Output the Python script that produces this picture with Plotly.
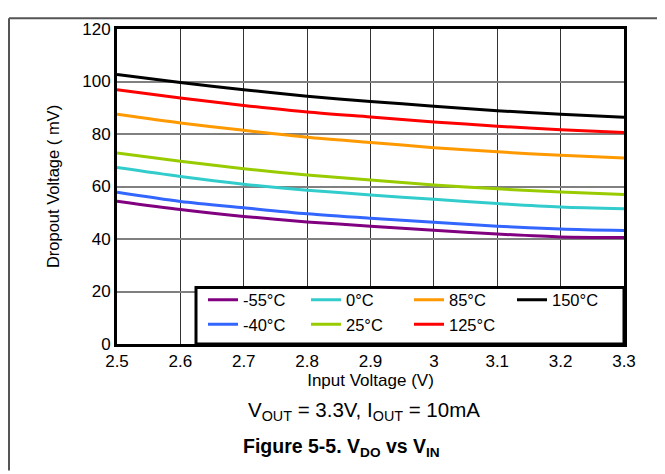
import plotly.graph_objects as go

vin = [2.5, 2.6, 2.7, 2.8, 2.9, 3.0, 3.1, 3.2, 3.3]

t_m55 = [54.4, 51.2, 48.6, 46.5, 44.9, 43.3, 41.9, 40.8, 40.6]
t_m40 = [57.8, 54.3, 51.9, 49.6, 47.9, 46.4, 44.9, 43.8, 43.2]
t_0 = [67.2, 63.8, 60.9, 58.6, 56.8, 55.1, 53.5, 52.2, 51.5]
t_25 = [72.8, 69.6, 66.8, 64.4, 62.5, 60.6, 59.1, 57.9, 57.0]
t_85 = [87.5, 84.2, 81.4, 78.8, 76.8, 74.8, 73.2, 71.9, 70.9]
t_125 = [96.9, 93.7, 90.9, 88.4, 86.5, 84.6, 83.0, 81.6, 80.6]
t_150 = [102.7, 99.6, 96.9, 94.4, 92.4, 90.6, 88.9, 87.5, 86.4]

x_ticks = [2.5, 2.6, 2.7, 2.8, 2.9, 3.0, 3.1, 3.2, 3.3]
x_ticklabels = ["2.5", "2.6", "2.7", "2.8", "2.9", "3", "3.1", "3.2", "3.3"]
y_ticks = [0, 20, 40, 60, 80, 100, 120]

# legend order arranged so rows read like the reference (column-major look)
series = [
    ("-55°C", t_m55, "#800080"),
    ("0°C", t_0, "#33CCCC"),
    ("85°C", t_85, "#FF9900"),
    ("150°C", t_150, "#000000"),
    ("-40°C", t_m40, "#3366FF"),
    ("25°C", t_25, "#99CC00"),
    ("125°C", t_125, "#FF0000"),
]

fig = go.Figure()
for name, vals, color in series:
    fig.add_trace(go.Scatter(
        x=vin, y=vals, name=name, mode="lines",
        line=dict(color=color, width=3, shape="spline", smoothing=0.8),
    ))

font_family = "Liberation Sans, Arial, sans-serif"

# page body has an 8px offset; figure is sized/placed to compensate
W, H = 657, 466
ML, MT, PW, PH = 109, 12, 507, 324


def px(xf):
    return (xf - ML) / PW


def py(yf):
    return (MT + PH - yf) / PH


fig.update_layout(
    width=W, height=H,
    margin=dict(l=ML, r=W - ML - PW, t=MT, b=H - MT - PH),
    paper_bgcolor="white", plot_bgcolor="white",
    font=dict(family=font_family, size=16, color="black"),
    showlegend=True,
    legend=dict(
        orientation="h",
        x=px(195), y=0.008, xanchor="left", yanchor="bottom",
        bgcolor="rgba(0,0,0,0)", borderwidth=0,
        entrywidth=58, entrywidthmode="pixels",
        font=dict(size=16.5, family=font_family),
        itemwidth=30,
    ),
    xaxis=dict(
        range=[2.5, 3.3], tickvals=x_ticks, ticktext=x_ticklabels,
        showgrid=True, gridcolor="#333333", gridwidth=1,
        showline=True, linecolor="black", linewidth=3, mirror=True,
        ticks="", zeroline=False,
        title=dict(text="Input Voltage (V)", standoff=2, font=dict(size=17)),
        tickfont=dict(size=17),
    ),
    yaxis=dict(
        range=[0, 120], tickvals=y_ticks,
        showgrid=True, gridcolor="#808080", gridwidth=1.5,
        showline=True, linecolor="black", linewidth=3, mirror=True,
        ticks="", zeroline=False,
        title=dict(text="Dropout Voltage ( mV)", standoff=19, font=dict(size=16.5)),
        tickfont=dict(size=17),
    ),
)

# legend box (white panel with thick black border)
fig.add_shape(type="rect", xref="paper", yref="paper",
              x0=px(188), x1=1.0, y0=0.0, y1=py(278),
              fillcolor="white", line=dict(color="black", width=3), layer="above")

# outer figure frame (top and left edges)
fig.add_shape(type="line", xref="paper", yref="paper",
              x0=px(1), x1=px(W), y0=py(1), y1=py(1),
              line=dict(color="#555555", width=2))
fig.add_shape(type="line", xref="paper", yref="paper",
              x0=px(1), x1=px(1), y0=py(1), y1=py(H),
              line=dict(color="#555555", width=2))

fig.add_annotation(
    xref="paper", yref="paper", x=px(356), y=py(405),
    text="V<sub>OUT</sub> = 3.3V, I<sub>OUT</sub> = 10mA",
    showarrow=False, font=dict(size=20.5, family=font_family), xanchor="center", yanchor="middle",
)
fig.add_annotation(
    xref="paper", yref="paper", x=px(333), y=py(442),
    text="<b>Figure 5-5. V<sub>DO</sub> vs V<sub>IN</sub></b>",
    showarrow=False, font=dict(size=19.5, family=font_family), xanchor="center", yanchor="middle",
)

fig.write_html("out.html")
